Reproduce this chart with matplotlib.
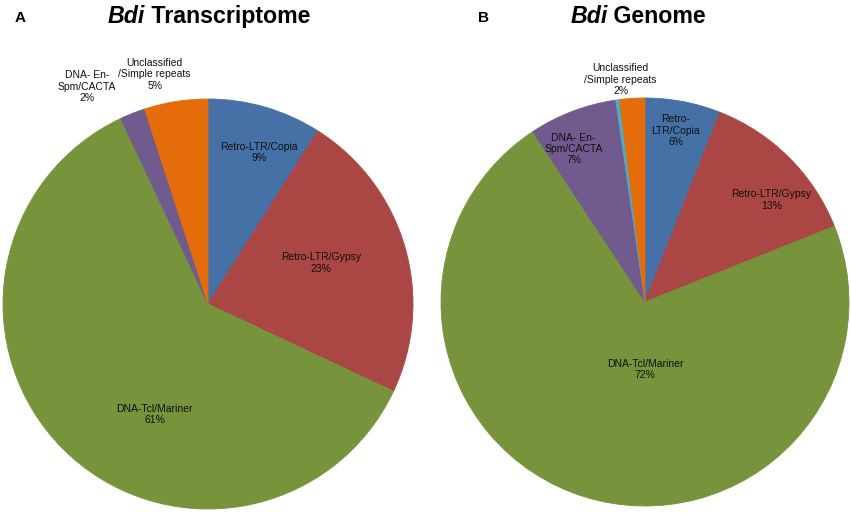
import matplotlib.pyplot as plt

plt.rcParams['font.family'] = ['Liberation Sans', 'DejaVu Sans']

# slices go clockwise from 12 o'clock
labels_a = ["Retro-LTR/Copia\n9%", "Retro-LTR/Gypsy\n23%", "DNA-Tcl/Mariner\n61%",
            "DNA- En-\nSpm/CACTA\n2%", "Unclassified\n/Simple repeats\n5%"]
values_a = [9, 23, 61, 2, 5]

labels_b = ["Retro-\nLTR/Copia\n6%", "Retro-LTR/Gypsy\n13%", "DNA-Tcl/Mariner\n72%",
            "DNA- En-\nSpm/CACTA\n7%", "", "Unclassified\n/Simple repeats\n2%"]
values_b = [6, 13, 72, 7, 0.3, 2]

colors_a = ["#4571a6", "#aa4644", "#77933c", "#715a8e", "#e46c0a"]
colors_b = ["#4571a6", "#aa4644", "#77933c", "#715a8e", "#4bacc6", "#e46c0a"]

# label positions relative to pie radius
pos_a = [(0.25, 0.74), (0.55, 0.2), (-0.26, -0.54), (-0.59, 1.06), (-0.26, 1.12)]
pos_b = [(0.15, 0.84), (0.62, 0.5), (0.0, -0.33), (-0.35, 0.75), (0, 0), (-0.12, 1.09)]

fig = plt.figure(figsize=(8.51, 5.13), dpi=100)

ax1 = fig.add_axes([3 / 851, 4 / 513, 410 / 851, 410 / 513])
ax2 = fig.add_axes([441 / 851, 7 / 513, 408 / 851, 408 / 513])

for ax, vals, cols, labs, pos in [(ax1, values_a, colors_a, labels_a, pos_a),
                                   (ax2, values_b, colors_b, labels_b, pos_b)]:
    wedges, _ = ax.pie(vals, colors=cols, startangle=90, counterclock=False, radius=1)
    for w, c in zip(wedges, cols):
        w.set_edgecolor(c)
        w.set_linewidth(0.6)
    for lab, (x, y) in zip(labs, pos):
        if lab:
            ax.text(x, y, lab, ha='center', va='center', fontsize=7.5,
                    color='#111111', linespacing=1.15)
    ax.set_xlim(-1, 1)
    ax.set_ylim(-1, 1)
    ax.set_aspect('equal')
    ax.axis('off')

# titles with italic species name
for x0, rest in [(0.127, " Transcriptome"), (0.670, " Genome")]:
    t = fig.text(x0, 0.955, "Bdi", fontsize=16.7, fontweight='bold', style='italic', va='baseline')
    ax1.annotate(rest, xy=(1, 0), xycoords=t, va='bottom', ha='left',
                 fontsize=16.7, fontweight='bold', annotation_clip=False)

fig.text(15 / 851, 1 - 18 / 513, "A", fontsize=11, fontweight='bold', va='center')
fig.text(478 / 851, 1 - 18 / 513, "B", fontsize=11, fontweight='bold', va='center')

fig.savefig("out.png", dpi=100)
